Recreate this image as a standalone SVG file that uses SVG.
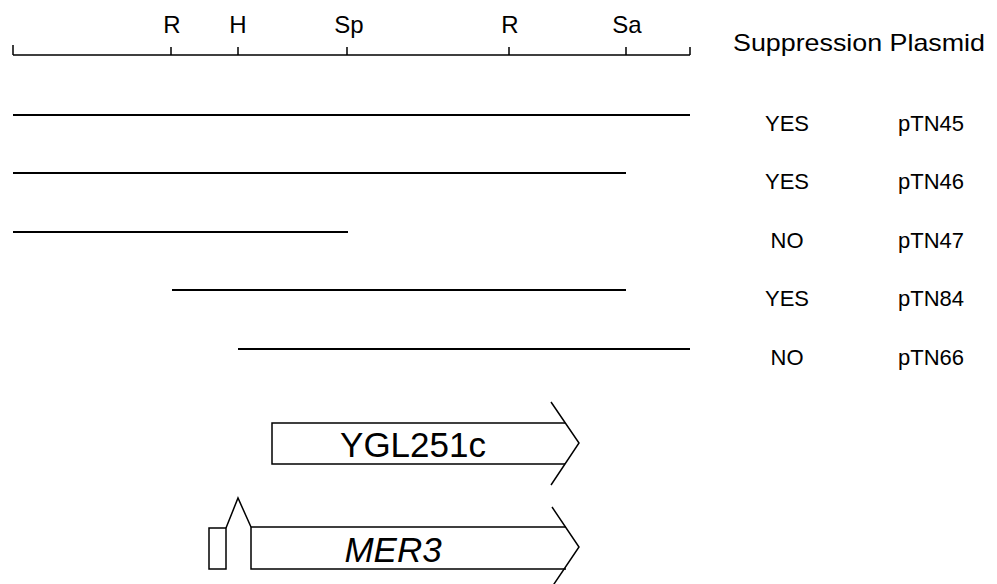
<svg xmlns="http://www.w3.org/2000/svg" width="997" height="584" viewBox="0 0 997 584">
<style>
.ln{stroke:#000;stroke-width:2;fill:none}
.thin{stroke:#000;stroke-width:1.5;fill:none}
.box{stroke:#000;stroke-width:1.5;fill:#fff}
.t{font-family:"Liberation Sans",Arial,sans-serif;font-size:22px;fill:#000}
.r{font-family:"Liberation Sans",Arial,sans-serif;font-size:24px;fill:#000}
.g{font-family:"Liberation Sans",Arial,sans-serif;font-size:35px;fill:#000}
</style>
<rect width="997" height="584" fill="#fff"/>
<g id="ruler">
<path class="thin" d="M13,55 H690 M13,45 V55 M171,47 V55 M238,47 V55 M347,47 V55 M509,47 V55 M626,47 V55 M690,47 V55"/>
<text class="r" x="172" y="33" text-anchor="middle">R</text>
<text class="r" x="238" y="33" text-anchor="middle">H</text>
<text class="r" x="349" y="33" text-anchor="middle">Sp</text>
<text class="r" x="510" y="33" text-anchor="middle">R</text>
<text class="r" x="627" y="33" text-anchor="middle">Sa</text>
</g>
<g id="headers">
<text class="r" x="733" y="51" textLength="252" lengthAdjust="spacingAndGlyphs">Suppression Plasmid</text>
</g>
<g id="pTN45"><path class="ln" d="M13,115 H690"/><text class="t" x="787" y="131" text-anchor="middle">YES</text><text class="t" x="898" y="131">pTN45</text></g>
<g id="pTN46"><path class="ln" d="M13,173 H626"/><text class="t" x="787" y="189" text-anchor="middle">YES</text><text class="t" x="898" y="189">pTN46</text></g>
<g id="pTN47"><path class="ln" d="M13,232 H348"/><text class="t" x="787" y="248" text-anchor="middle">NO</text><text class="t" x="898" y="248">pTN47</text></g>
<g id="pTN84"><path class="ln" d="M172,290 H626"/><text class="t" x="787" y="306" text-anchor="middle">YES</text><text class="t" x="898" y="306">pTN84</text></g>
<g id="pTN66"><path class="ln" d="M238,349 H690"/><text class="t" x="787" y="365" text-anchor="middle">NO</text><text class="t" x="898" y="365">pTN66</text></g>
<g id="YGL251c">
<path class="box" d="M565,423 H272 V464 H565"/>
<path class="thin" d="M551,402 L579,443 L551,485"/>
<text class="g" x="413" y="457" text-anchor="middle">YGL251c</text>
</g>
<g id="MER3">
<rect class="box" x="209" y="528" width="17" height="41"/>
<path class="thin" d="M226,528 L238,498 L251,527"/>
<path class="box" d="M566,527 H251 V569 H566"/>
<path class="thin" d="M552,507 L579,547 L552,587"/>
<text class="g" x="393" y="562" text-anchor="middle" font-style="italic">MER3</text>
</g>
</svg>
